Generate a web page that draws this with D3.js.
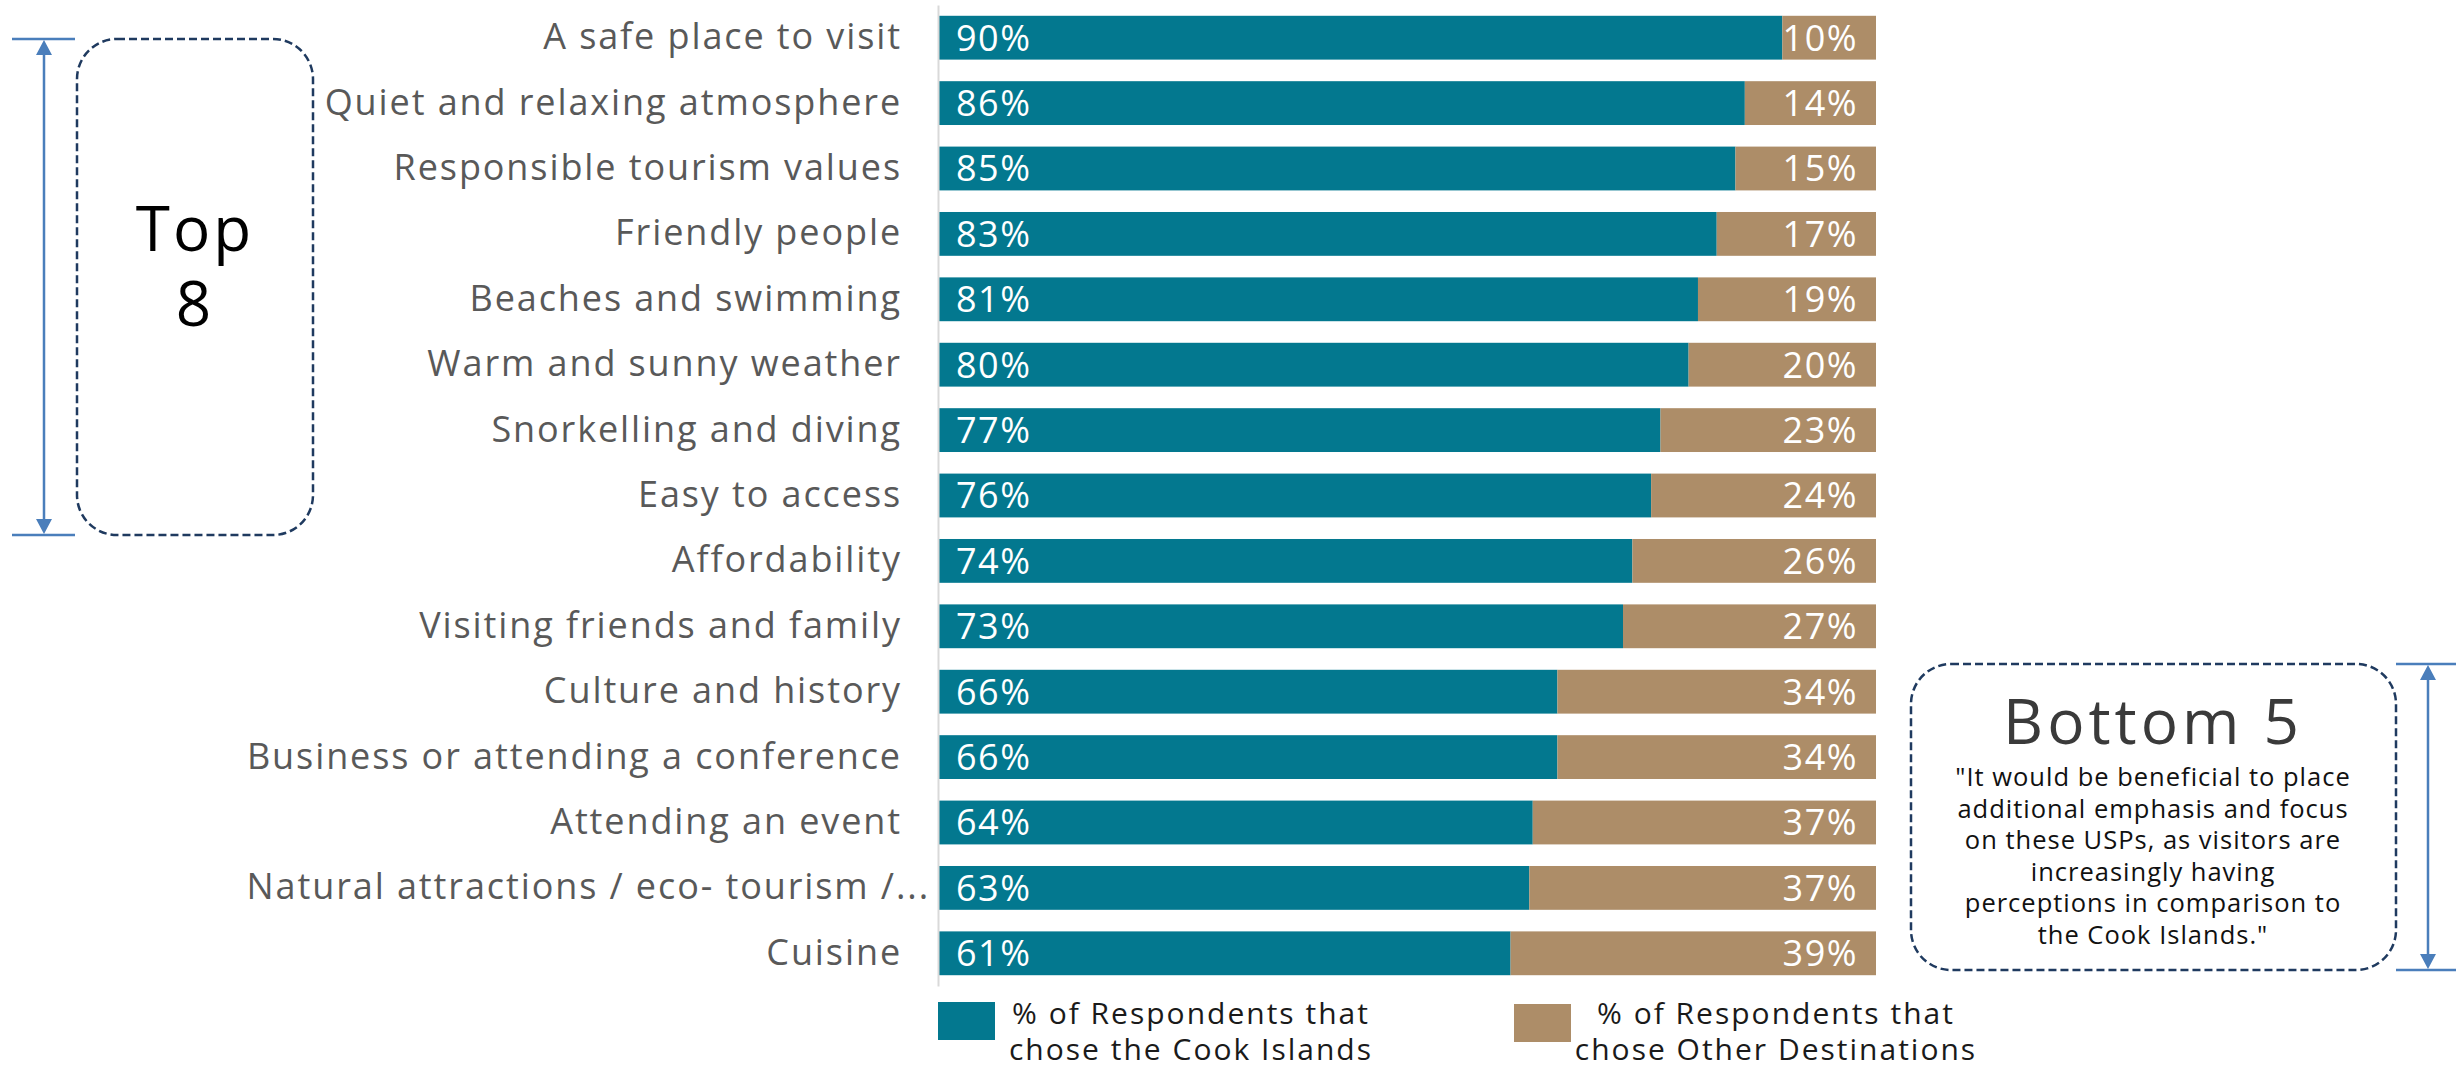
<!DOCTYPE html>
<html>
<head>
<meta charset="utf-8">
<script src="https://cdn.jsdelivr.net/npm/d3@7"></script>
<style>
  html, body { margin: 0; padding: 0; background: #ffffff; }
  svg { display: block; }
  text { font-family: "Open Sans", "Noto Sans", sans-serif; }
</style>
</head>
<body>
<svg id="chart" width="2456" height="1068"></svg>
<script>
// Destination attributes, ranked by share choosing the Cook Islands
const categories = [
  "A safe place to visit",
  "Quiet and relaxing atmosphere",
  "Responsible tourism values",
  "Friendly people",
  "Beaches and swimming",
  "Warm and sunny weather",
  "Snorkelling and diving",
  "Easy to access",
  "Affordability",
  "Visiting friends and family",
  "Culture and history",
  "Business or attending a conference",
  "Attending an event",
  "Natural attractions / eco- tourism /...",
  "Cuisine"
];
const cookIslands = [90, 86, 85, 83, 81, 80, 77, 76, 74, 73, 66, 66, 64, 63, 61];
const otherDestinations = [10, 14, 15, 17, 19, 20, 23, 24, 26, 27, 34, 34, 37, 37, 39];

const seriesKeys = ["cook", "other"];
const legendLines = [
  ["% of Respondents that", "chose the Cook Islands"],
  ["% of Respondents that", "chose Other Destinations"]
];
const topLabel = ["Top", "8"];
const bottomTitle = "Bottom 5";
const bottomQuote = [
  "\"It would be beneficial to place",
  "additional emphasis and focus",
  "on these USPs, as visitors are",
  "increasingly having",
  "perceptions in comparison to",
  "the Cook Islands.\""
];

const colors = { cook: "#03788F", other: "#AD8D68" };

// Rows for a 100% stacked bar: each row is normalised to its own total
const rows = categories.map((c, i) => ({
  category: c,
  cook: cookIslands[i],
  other: otherDestinations[i]
}));
const stacked = d3.stack()
  .keys(seriesKeys)
  .offset(d3.stackOffsetExpand)(rows);

const svg = d3.select("#chart");

const x = d3.scaleLinear().domain([0, 1]).range([939, 1876]);
const y = d3.scaleBand()
  .domain(categories)
  .range([5, 986])
  .paddingInner(0.33)
  .paddingOuter(0.165);

// Stacked bars
const layers = svg.append("g")
  .selectAll("g")
  .data(stacked)
  .join("g")
  .attr("fill", d => colors[d.key]);

layers.selectAll("rect")
  .data(d => d)
  .join("rect")
  .attr("x", d => x(d[0]))
  .attr("y", d => y(d.data.category))
  .attr("width", d => x(d[1]) - x(d[0]))
  .attr("height", y.bandwidth());

// Value labels: Cook Islands share at the bar start, other share at the bar end
const valueFont = { size: 36, spacing: 1.5 };
svg.append("g")
  .selectAll("text")
  .data(rows)
  .join("text")
  .attr("x", x(0) + 17)
  .attr("y", d => y(d.category) + y.bandwidth() / 2)
  .attr("dy", "0.36em")
  .attr("fill", "#ffffff")
  .attr("font-size", valueFont.size)
  .attr("letter-spacing", valueFont.spacing)
  .text(d => d.cook + "%");

svg.append("g")
  .selectAll("text")
  .data(rows)
  .join("text")
  .attr("x", x(1) - 18)
  .attr("y", d => y(d.category) + y.bandwidth() / 2)
  .attr("dy", "0.36em")
  .attr("text-anchor", "end")
  .attr("fill", "#ffffff")
  .attr("font-size", valueFont.size)
  .attr("letter-spacing", valueFont.spacing)
  .text(d => d.other + "%");

// Category axis
const yAxis = svg.append("g")
  .attr("transform", `translate(${x(0) - 1},0)`)
  .call(d3.axisLeft(y).tickSize(0).tickPadding(36));

yAxis.select(".domain")
  .attr("stroke", "#d9d9d9")
  .attr("stroke-width", 2);

yAxis.selectAll(".tick text")
  .attr("font-family", "\"Open Sans\", sans-serif")
  .attr("font-size", 36)
  .attr("letter-spacing", 1.9)
  .attr("fill", "#595959")
  .attr("x", d => d.endsWith("...") ? -8 : -36);

// Legend
const legend = svg.append("g");
const legendItems = [
  { key: "cook", rx: 938, ry: 1002, cx: 1191 },
  { key: "other", rx: 1514, ry: 1004, cx: 1776 }
];
legendItems.forEach((item, i) => {
  legend.append("rect")
    .attr("x", item.rx)
    .attr("y", item.ry)
    .attr("width", 57)
    .attr("height", 38)
    .attr("fill", colors[item.key]);
  legend.selectAll(null)
    .data(legendLines[i])
    .join("text")
    .attr("x", item.cx)
    .attr("y", (d, j) => 1024 + j * 36)
    .attr("text-anchor", "middle")
    .attr("font-size", 30)
    .attr("letter-spacing", 2)
    .attr("fill", "#1a1a1a")
    .text(d => d);
});

// Double-headed bracket arrow
function bracket(g, ax, y0, y1, tickX0, tickX1) {
  const stroke = "#4A7EBB";
  g.append("line").attr("x1", tickX0).attr("x2", tickX1).attr("y1", y0).attr("y2", y0)
    .attr("stroke", stroke).attr("stroke-width", 2.5);
  g.append("line").attr("x1", tickX0).attr("x2", tickX1).attr("y1", y1).attr("y2", y1)
    .attr("stroke", stroke).attr("stroke-width", 2.5);
  g.append("line").attr("x1", ax).attr("x2", ax).attr("y1", y0 + 10).attr("y2", y1 - 10)
    .attr("stroke", stroke).attr("stroke-width", 2.5);
  const hw = 8, hl = 16;
  g.append("path")
    .attr("d", `M${ax},${y0 + 1} L${ax - hw},${y0 + hl} L${ax + hw},${y0 + hl} Z`)
    .attr("fill", stroke);
  g.append("path")
    .attr("d", `M${ax},${y1 - 1} L${ax - hw},${y1 - hl} L${ax + hw},${y1 - hl} Z`)
    .attr("fill", stroke);
}

function dashedBox(g, bx, by, bw, bh) {
  g.append("rect")
    .attr("x", bx).attr("y", by)
    .attr("width", bw).attr("height", bh)
    .attr("rx", 40).attr("ry", 40)
    .attr("fill", "none")
    .attr("stroke", "#1F3A5F")
    .attr("stroke-width", 2.5)
    .attr("stroke-dasharray", "8,4");
}

// Top 8 callout
const topGroup = svg.append("g");
bracket(topGroup, 44, 39, 535, 12, 75);
dashedBox(topGroup, 77, 39, 236, 496);
topGroup.selectAll(null)
  .data(topLabel)
  .join("text")
  .attr("x", 195)
  .attr("y", (d, i) => 251 + i * 75)
  .attr("text-anchor", "middle")
  .attr("font-size", 62)
  .attr("letter-spacing", 3)
  .attr("fill", "#000000")
  .text(d => d);

// Bottom 5 callout
const bottomGroup = svg.append("g");
bracket(bottomGroup, 2428, 664, 970, 2396, 2456);
dashedBox(bottomGroup, 1911, 664, 485, 306);
bottomGroup.append("text")
  .attr("x", 2153)
  .attr("y", 744)
  .attr("text-anchor", "middle")
  .attr("font-size", 62)
  .attr("letter-spacing", 4)
  .attr("fill", "#3a3a3a")
  .text(bottomTitle);
bottomGroup.selectAll(null)
  .data(bottomQuote)
  .join("text")
  .attr("x", 2153)
  .attr("y", (d, i) => 786 + i * 31.6)
  .attr("text-anchor", "middle")
  .attr("font-size", 25.5)
  .attr("letter-spacing", 1)
  .attr("fill", "#111111")
  .text(d => d);
</script>
</body>
</html>
